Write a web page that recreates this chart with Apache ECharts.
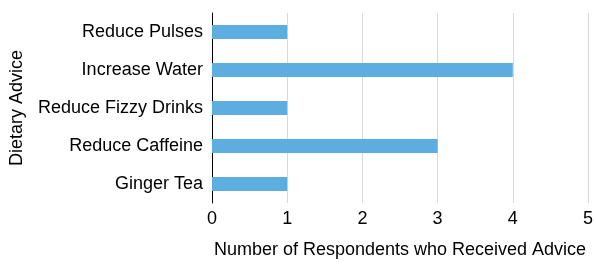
<!DOCTYPE html>
<html><head><meta charset="utf-8">
<script src="https://cdn.jsdelivr.net/npm/echarts@6/dist/echarts.min.js"></script>
<style>html,body{margin:0;padding:0;background:#fff}#c{width:596px;height:264px}</style>
</head><body><div id="c"></div>
<script>
const categories = ["Reduce Pulses", "Increase Water", "Reduce Fizzy Drinks", "Reduce Caffeine", "Ginger Tea"];
const values = [1, 4, 1, 3, 1];
const xTicks = [0, 1, 2, 3, 4, 5];
const xTitle = "Number of Respondents who Received Advice";
const yTitle = "Dietary Advice";

const chart = echarts.init(document.getElementById('c'), null, {renderer: 'canvas'});
const font = '"Liberation Sans", Arial, Helvetica, sans-serif';
chart.setOption({
  animation: false,
  textStyle: {fontFamily: font},
  grid: {left: 212, right: 3, top: 13, bottom: 57, containLabel: false},
  xAxis: {
    type: 'value', min: xTicks[0], max: xTicks[xTicks.length - 1], interval: 1,
    axisLine: {show: false}, axisTick: {show: false},
    splitLine: {show: true, lineStyle: {color: '#d9d9d9', width: 1}},
    axisLabel: {color: '#000', fontSize: 18, fontFamily: font, margin: 7},
    name: xTitle, nameLocation: 'middle', nameGap: 38,
    nameTextStyle: {color: '#000', fontSize: 18, fontFamily: font}
  },
  yAxis: {
    type: 'category', data: categories, inverse: true,
    axisLine: {show: true, lineStyle: {color: '#000', width: 1}},
    axisTick: {show: false},
    axisLabel: {color: '#000', fontSize: 18, fontFamily: font, margin: 9},
    name: yTitle, nameLocation: 'middle', nameGap: 186, nameRotate: 90,
    nameTextStyle: {color: '#000', fontSize: 18, fontFamily: font}
  },
  series: [{
    type: 'bar', data: values, barWidth: 14,
    itemStyle: {color: '#5dade0'}
  }]
});
</script></body></html>
